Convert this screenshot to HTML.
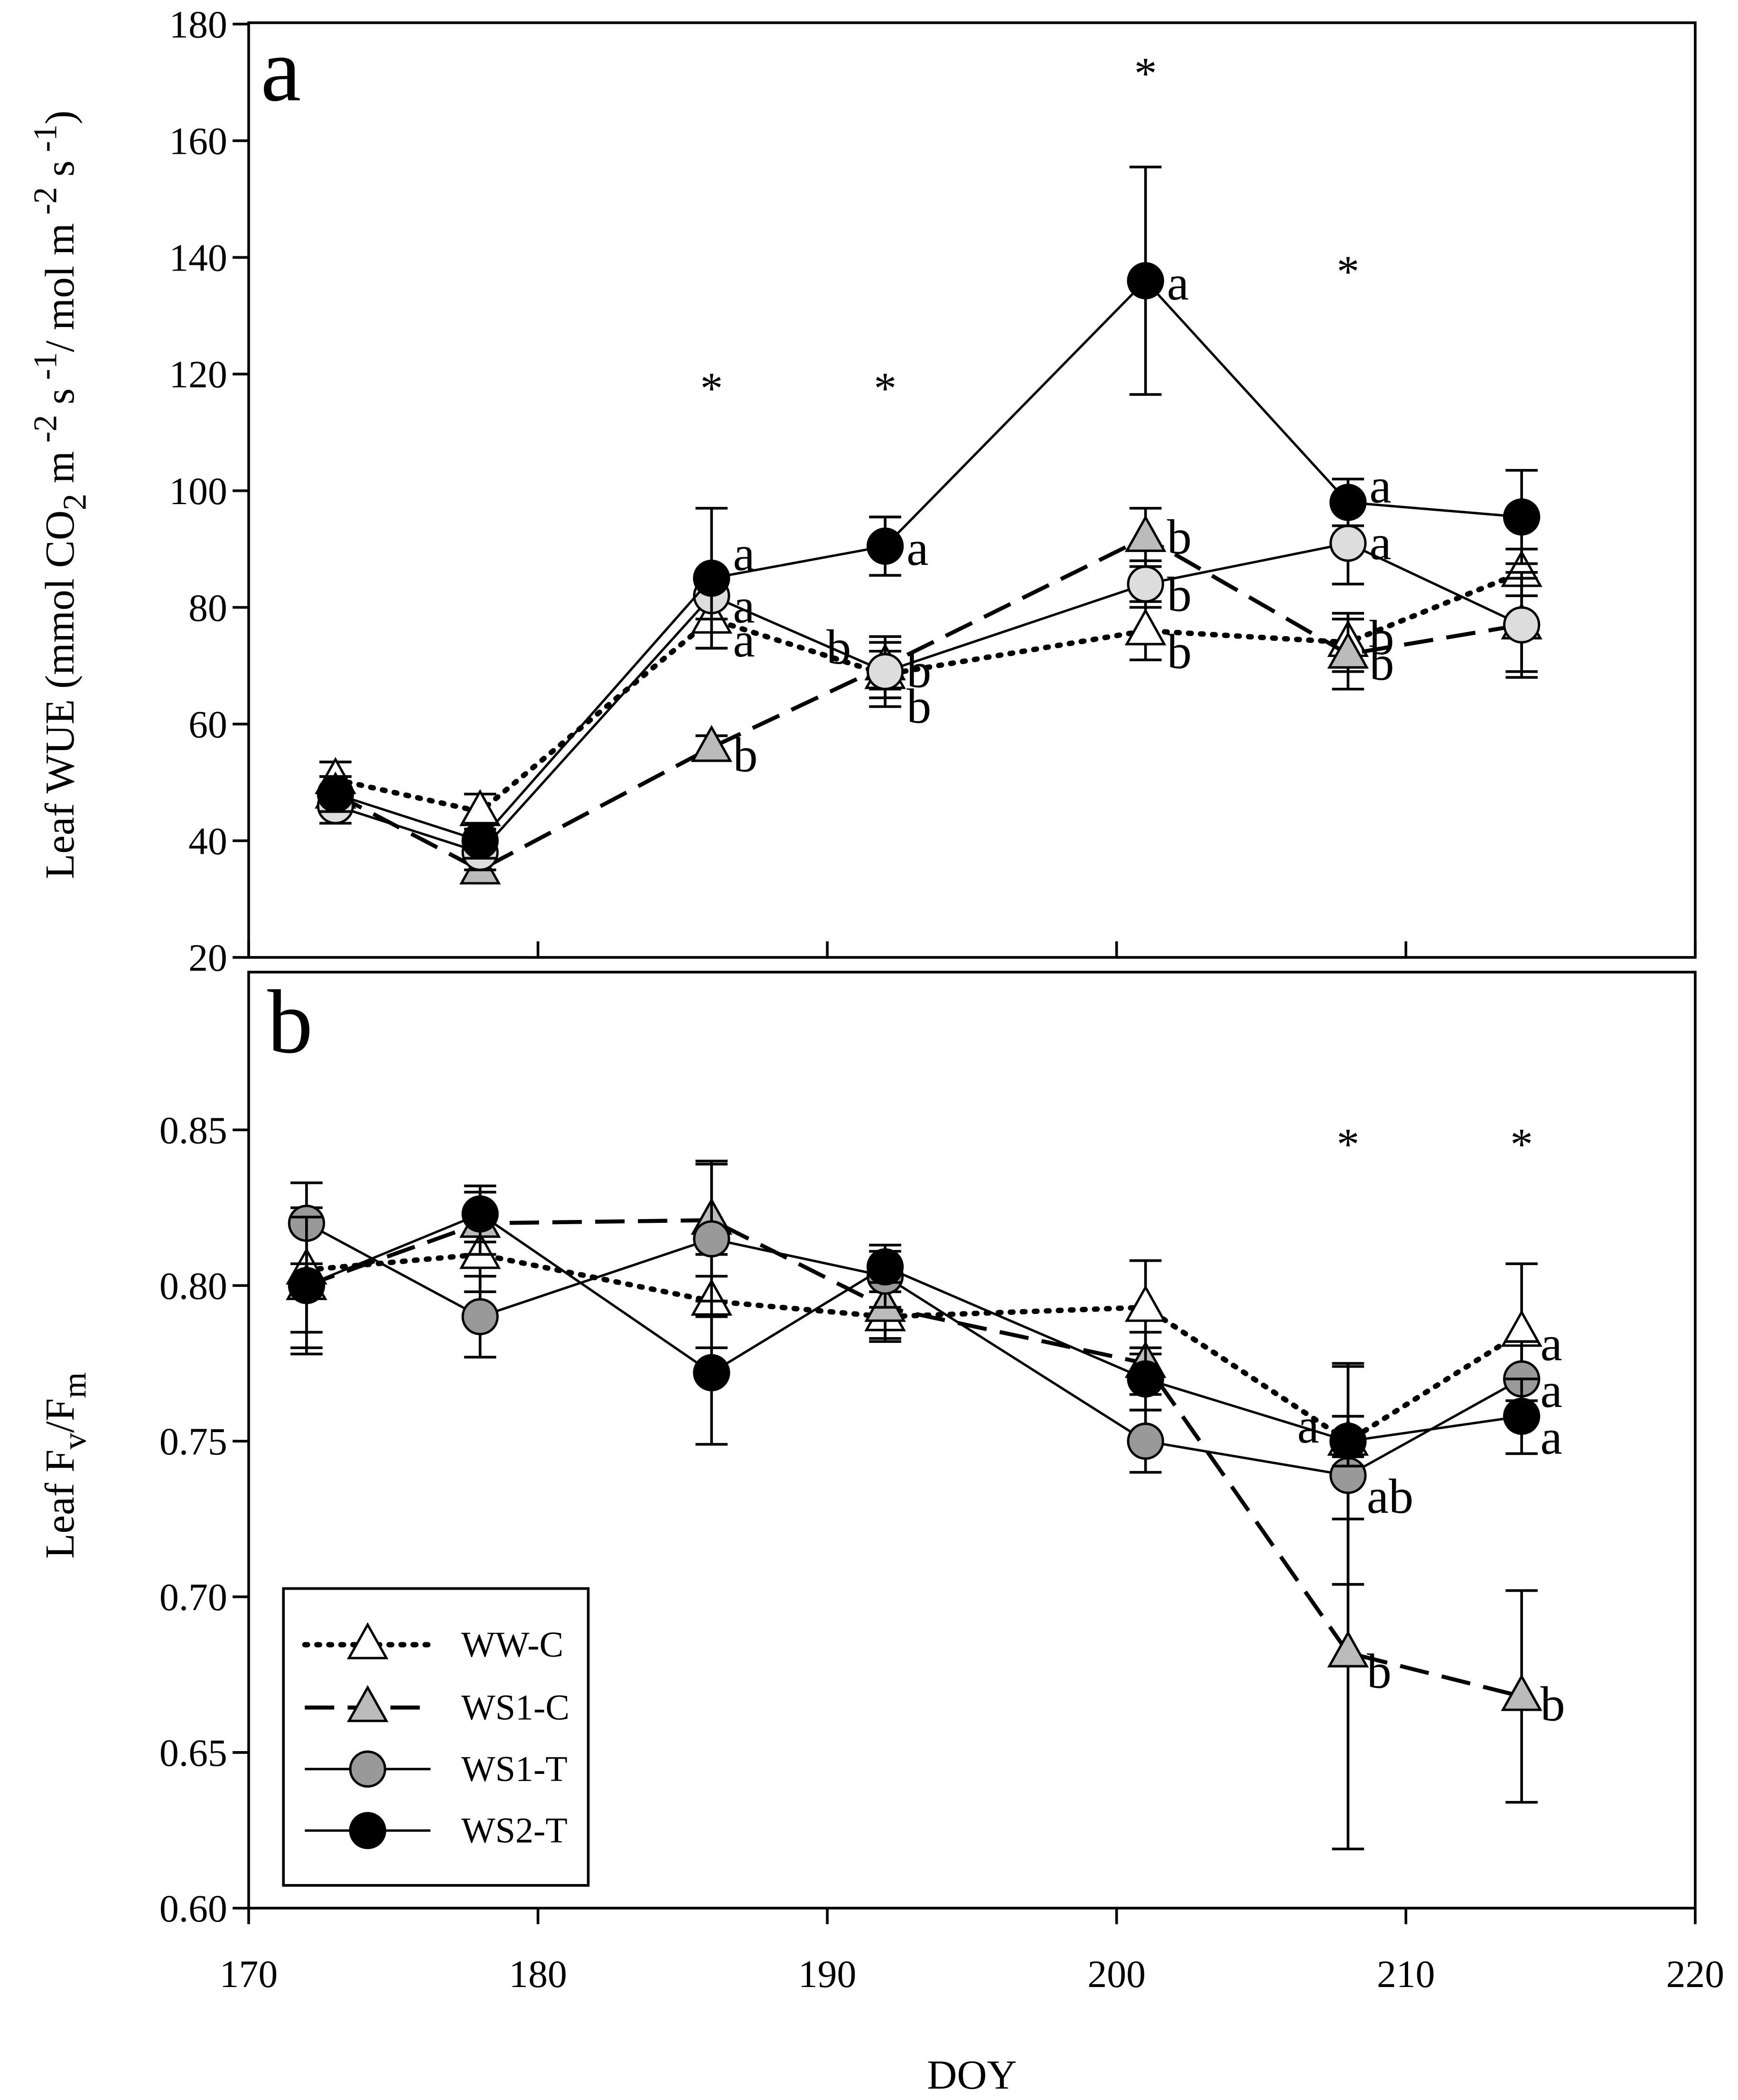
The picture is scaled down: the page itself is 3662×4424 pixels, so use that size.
<!DOCTYPE html>
<html><head><meta charset="utf-8"><style>
html,body{margin:0;padding:0;background:#fff}
svg{display:block}
text{font-family:"Liberation Serif",serif;fill:#000}
</style></head><body>
<svg id="chart" width="3662" height="4424" viewBox="0 0 1300 1570.5" xmlns="http://www.w3.org/2000/svg">
<g id="axes"></g><g id="marks"></g>
</svg>
<script>
const NS="http://www.w3.org/2000/svg";
// ---- data ----
const doyA=[173,178,186,192,201,208,214];
const doyB=[172,178,186,192,201,208,214];
const seriesNames=["WW-C","WS1-C","WS1-T","WS2-T"];
const wueWWC=[50.5,45,78,68.5,76,74,86];
const wueWS1C=[48,35,56,70,92,72,77];
const wueWS1T=[46,38,82,69,84,91,77];
const wueWS2T=[48,40,85,90.5,136,98,95.5];
const wueErrWWC=[3,3,5,4,5,5,4];
const wueErrWS1C=[3,2,2,4,5,6,8];
const wueErrWS1T=[3,3,4,6,4,7,9];
const wueErrWS2T=[3,3,12,5,19.5,4,8];
const fvWWC=[0.805,0.81,0.795,0.79,0.793,0.75,0.785];
const fvWS1C=[0.80,0.82,0.821,0.793,0.775,0.682,0.668];
const fvWS1T=[0.82,0.79,0.815,0.803,0.75,0.739,0.77];
const fvWS2T=[0.80,0.823,0.772,0.806,0.77,0.75,0.758];
const fvErrWWC=[0.02,0.012,0.015,0.008,0.015,0.025,0.022];
const fvErrWS1C=[0.02,0.01,0.018,0.01,0.01,0.063,0.034];
const fvErrWS1T=[0.013,0.013,0.025,0.01,0.01,0.035,0.012];
const fvErrWS2T=[0.022,0.009,0.023,0.005,0.01,0.008,0.012];
const xTicks=[170,180,190,200,210,220];
const yTicksA=[20,40,60,80,100,120,140,160,180];
const yTicksB=[0.60,0.65,0.70,0.75,0.80,0.85];
// ---- scales ----
const X0=186,X1=1268;
const sx=d=>X0+(d-170)/50*(X1-X0);
const syA=v=>716-(v-20)/160*698;
const syB=v=>1427-(v-0.60)/0.25*582;
const ax=document.getElementById('axes'),mk=document.getElementById('marks');
function el(t,a,p,txt){const e=document.createElementNS(NS,t);for(const k in a)e.setAttribute(k,a[k]);if(txt!==undefined)e.textContent=txt;(p||mk).appendChild(e);return e;}
// axes
let f=el('rect',{x:X0,y:17,width:X1-X0,height:699,fill:'none',stroke:'#000','stroke-width':2},ax);

f=el('rect',{x:X0,y:727,width:X1-X0,height:700,fill:'none',stroke:'#000','stroke-width':2},ax);

yTicksA.forEach(v=>{el('line',{x1:X0-12,x2:X0,y1:syA(v),y2:syA(v),stroke:'#000','stroke-width':2},ax);
 const t=el('text',{x:X0-16,y:syA(v)+10,'font-size':29,'text-anchor':'end'},ax,String(v));
 });
yTicksB.forEach(v=>{el('line',{x1:X0-12,x2:X0,y1:syB(v),y2:syB(v),stroke:'#000','stroke-width':2},ax);
 const t=el('text',{x:X0-16,y:syB(v)+10,'font-size':29,'text-anchor':'end'},ax,v.toFixed(2));
 });
xTicks.forEach(v=>{el('line',{x1:sx(v),x2:sx(v),y1:716,y2:704,stroke:'#000','stroke-width':2},ax);
 el('line',{x1:sx(v),x2:sx(v),y1:1427,y2:1439,stroke:'#000','stroke-width':2},ax);
 const t=el('text',{x:sx(v),y:1486,'font-size':29,'text-anchor':'middle'},ax,String(v));
 });
let t=el('text',{x:727,y:1562,'font-size':31,'text-anchor':'middle'},ax,'DOY');

t=el('text',{x:195,y:75,'font-size':68},ax,'a');
t=el('text',{x:200,y:787,'font-size':68},ax,'b');
t=el('text',{transform:'translate(55,370) rotate(-90)','font-size':31,'text-anchor':'middle'},ax);

t.innerHTML='Leaf WUE (mmol CO<tspan dy="9" font-size="25">2</tspan><tspan dy="-9"> m</tspan><tspan dy="-13" font-size="25"> -2</tspan><tspan dy="13"> s</tspan><tspan dy="-13" font-size="25"> -1</tspan><tspan dy="13">/ mol m</tspan><tspan dy="-13" font-size="25"> -2</tspan><tspan dy="13"> s</tspan><tspan dy="-13" font-size="25"> -1</tspan><tspan dy="13">)</tspan>';
t=el('text',{transform:'translate(55,1096) rotate(-90)','font-size':31,'text-anchor':'middle'},ax);

t.innerHTML='Leaf F<tspan dy="9" font-size="25">v</tspan><tspan dy="-9">/F</tspan><tspan dy="9" font-size="25">m</tspan>';
// series drawing
const styles=[{dash:'2 7',w:4,cap:'round',m:'tri',fill:'#fff'},{dash:'22 10',w:3,cap:'butt',m:'tri',fill:'#aaa'},{dash:'',w:1.8,cap:'butt',m:'circ',fill:'#999'},{dash:'',w:1.8,cap:'butt',m:'circ',fill:'#000'}];
function marker(x,y,s,g){
 if(s.m==='tri') return el('polygon',{points:`${x},${y-15} ${x-14},${y+10} ${x+14},${y+10}`,fill:s.fill,stroke:'#000','stroke-width':1.8},g);
 return el('circle',{cx:x,cy:y,r:13,fill:s.fill,stroke:'#000','stroke-width':1.8},g);
}
function drawSeries(xs,vals,errs,sy,s,name,fillOverride){
 const g=el('g',{});
 
 const st=Object.assign({},s);if(fillOverride)st.fill=fillOverride;
 const pts=xs.map((d,i)=>sx(d)+','+sy(vals[i])).join(' ');
 el('polyline',{points:pts,fill:'none',stroke:'#000','stroke-width':st.w,'stroke-dasharray':st.dash,'stroke-linecap':st.cap},g);
 xs.forEach((d,i)=>{const x=sx(d),y1=sy(vals[i]+errs[i]),y2=sy(vals[i]-errs[i]);
  el('line',{x1:x,x2:x,y1:y1,y2:y2,stroke:'#000','stroke-width':2},g);
  el('line',{x1:x-12,x2:x+12,y1:y1,y2:y1,stroke:'#000','stroke-width':2},g);
  el('line',{x1:x-12,x2:x+12,y1:y2,y2:y2,stroke:'#000','stroke-width':2},g);});
 xs.forEach((d,i)=>{const m=marker(sx(d),sy(vals[i]),st,g);});
}
drawSeries(doyA,wueWWC,wueErrWWC,syA,styles[0],'wue-ww-c');
drawSeries(doyA,wueWS1C,wueErrWS1C,syA,styles[1],'wue-ws1-c','#bbb');
drawSeries(doyA,wueWS1T,wueErrWS1T,syA,styles[2],'wue-ws1-t','#ddd');
drawSeries(doyA,wueWS2T,wueErrWS2T,syA,styles[3],'wue-ws2-t');
drawSeries(doyB,fvWWC,fvErrWWC,syB,styles[0],'fv-ww-c');
drawSeries(doyB,fvWS1C,fvErrWS1C,syB,styles[1],'fv-ws1-c','#bbb');
drawSeries(doyB,fvWS1T,fvErrWS1T,syB,styles[2],'fv-ws1-t');
drawSeries(doyB,fvWS2T,fvErrWS2T,syB,styles[3],'fv-ws2-t');
// letters & asterisks
const lettersA=[[186,85,'a',-12],[186,82,'a',14],[186,78,'a',22],[186,56,'b',12],[192,90.5,'a',8],[192,69,'b',-12],[192,70,'b',10],[192,68.5,'b',30],[201,136,'a',8],[201,92,'b',6],[201,84,'b',14],[201,76,'b',22],[208,98,'a',-6],[208,91,'a',6],[208,72,'b',-6],[208,74,'b',22]];
const lettersB=[[208,0.75,'a',-5],[208,0.739,'ab',22],[208,0.682,'b',20],[214,0.785,'a',15],[214,0.77,'a',15],[214,0.758,'a',22],[214,0.668,'b',12]];
const starsA=[[186,120],[192,120],[201,174],[208,140]];
const starsB=[[208,0.85],[214,0.85]];
lettersA.forEach(([d,v,s,dy])=>{const e=el('text',{x:sx(d)+(s==='b'&&d===192&&dy<0?-44:16),y:syA(v)+dy+6,'font-size':37},undefined,s);
 });
lettersB.forEach(([d,v,s,dy])=>{const e=el('text',{x:sx(d)+(d===208&&s==='a'?-38:14),y:syB(v)+dy+6,'font-size':37},undefined,s);
 });
starsA.forEach(([d,v])=>{const e=el('text',{x:sx(d),y:syA(v)+22,'font-size':34,'text-anchor':'middle'},undefined,'*');
 });
starsB.forEach(([d,v])=>{const e=el('text',{x:sx(d),y:syB(v)+22,'font-size':34,'text-anchor':'middle'},undefined,'*');
 });
// legend
const lg=el('g',{});
el('rect',{x:212,y:1188,width:228,height:222,fill:'#fff',stroke:'#000','stroke-width':2},lg);
const legY=[1230,1277,1323,1369];
seriesNames.forEach((n,i)=>{const s=styles[i];const g=el('g',{},lg);
 
 el('line',{x1:228,x2:322,y1:legY[i],y2:legY[i],stroke:'#000','stroke-width':s.w,'stroke-dasharray':s.dash,'stroke-linecap':s.cap},g);
 marker(275,legY[i],i===1?Object.assign({},s,{fill:'#bbb'}):s,g);
 el('text',{x:345,y:legY[i]+9,'font-size':27},g,n);});
</script>
</body></html>
